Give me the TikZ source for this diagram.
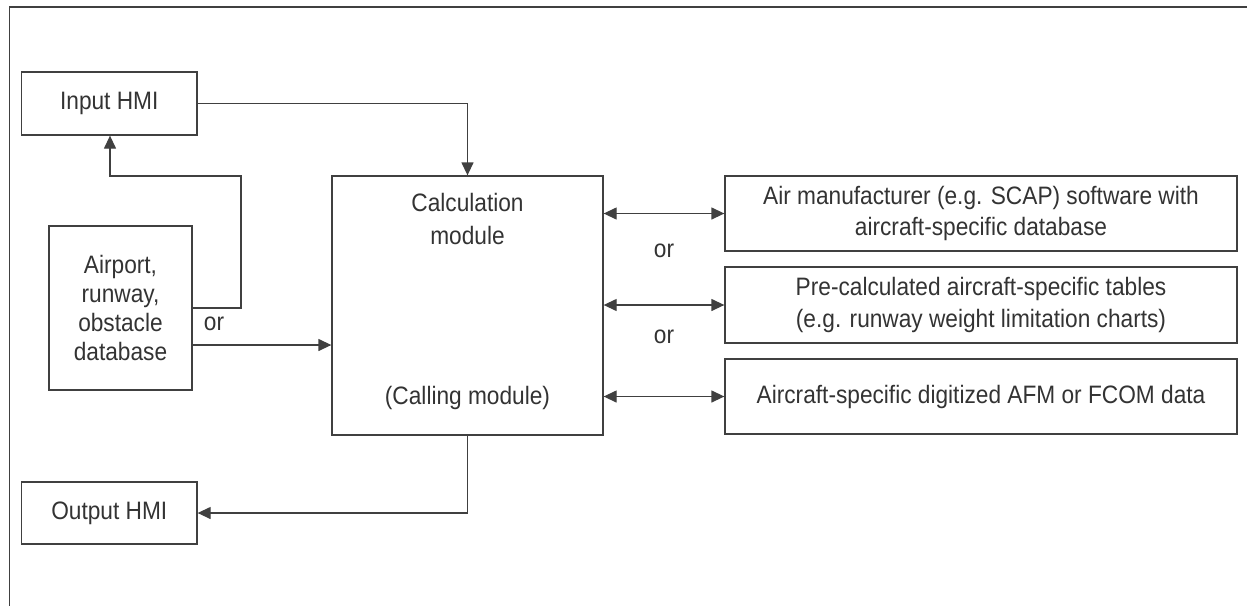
\documentclass[tikz,border=0pt]{standalone}
\usepackage{fontspec}
\setmainfont{Liberation Sans}[FakeStretch=0.9]
\usetikzlibrary{arrows.meta}
\definecolor{ln}{HTML}{404040}
\definecolor{tx}{HTML}{333333}
\begin{document}
\begin{tikzpicture}[x=1pt,y=-1pt,
  box/.style={draw=ln,line width=1.3pt,text=tx,align=center,inner sep=0pt,font=\fontsize{25.2}{31.5}\selectfont},
  conn/.style={draw=ln,line width=1.3pt},
  tip/.style={-{Triangle[length=13pt,width=12pt]}},
  dtip/.style={{Triangle[length=13pt,width=12pt]}-{Triangle[length=13pt,width=12pt]}},
  lbl/.style={text=tx,inner sep=0pt,font=\fontsize{25.2}{32.5}\selectfont}]
\useasboundingbox (0,0) rectangle (1247,606);
% frame
\coordinate (ftr) at (1247,7);
\coordinate (ftl) at (9.5,7);
\coordinate (fbl) at (9.5,606);
\draw[conn,line width=1.5pt] (ftr) -- (ftl) -- (fbl);
% nodes
\node[box,minimum width=175.5pt,minimum height=63pt] (inhmi) at (109.25,103.5) {Input HMI};
\node[box,minimum width=143pt,minimum height=164pt,font=\fontsize{25.2}{29}\selectfont] (apt) at (120.5,308) {Airport,\\runway,\\obstacle\\database};
\node[box,minimum width=175.5pt,minimum height=62pt] (outhmi) at (109.25,513) {Output HMI};
\node[box,minimum width=271pt,minimum height=259pt] (calc) at (467.5,305.5) {};
\node[lbl,align=center] (calct) at (467.5,219) {Calculation\\module};
\node[lbl] (callt) at (467.5,398) {(Calling module)};
\node[box,minimum width=512pt,minimum height=75pt] (r1) at (981,213.5) {Air manufacturer (e.g. SCAP) software with\\aircraft-specific database};
\node[box,minimum width=512pt,minimum height=76pt] (r2) at (981,305) {Pre-calculated aircraft-specific tables\\(e.g. runway weight limitation charts)};
\node[box,minimum width=512pt,minimum height=75pt] (r3) at (981,396.5) {Aircraft-specific digitized AFM or FCOM data};
% labels
\node[lbl] (or1) at (214,324) {or};
\node[lbl] (or2) at (664,251) {or};
\node[lbl] (or3) at (664,337) {or};
% connectors
\draw[conn,tip] (inhmi.east) -- (467.5,103.5) -- (calc.north);
\draw[conn,tip] (apt.east |- 0,308) -- (241,308) -- (241,176) -- (110,176) -- (inhmi.south -| 110,0);
\draw[conn,tip] (apt.east |- 0,345) -- (calc.west |- 0,345);
\draw[conn,tip] (calc.south) -- (467.5,513) -- (outhmi.east);
\draw[conn,dtip] (calc.east |- r1.west) -- (r1.west);
\draw[conn,dtip] (calc.east |- r2.west) -- (r2.west);
\draw[conn,dtip] (calc.east |- r3.west) -- (r3.west);
\end{tikzpicture}
\end{document}
